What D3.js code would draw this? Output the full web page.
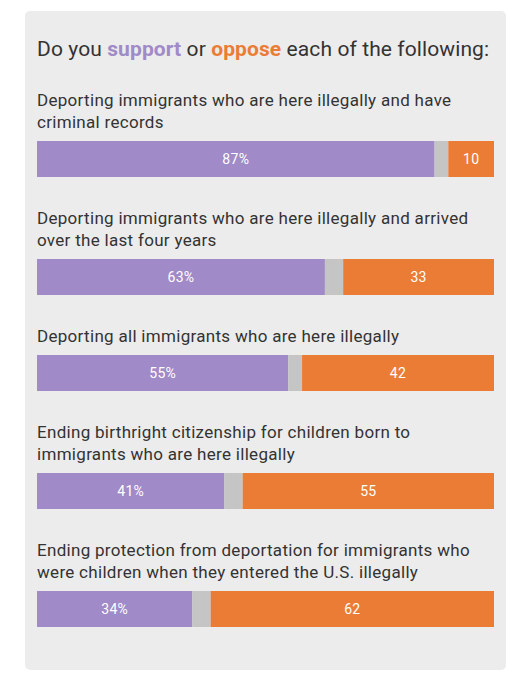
<!DOCTYPE html>
<html>
<head>
<meta charset="utf-8">
<script src="https://cdn.jsdelivr.net/npm/d3@7"></script>
<style>
  body { margin: 0; background: #fff; }
  text { font-family: Roboto, sans-serif; }
</style>
</head>
<body>
<div id="chart"></div>
<script>
const width = 531
const height = 680
const margin = {top: 11, right: 25, bottom: 10, left: 25}

// survey items, each label already broken into lines as printed
const labels = [
  ["Deporting immigrants who are here illegally and have", "criminal records"],
  ["Deporting immigrants who are here illegally and arrived", "over the last four years"],
  ["Deporting all immigrants who are here illegally"],
  ["Ending birthright citizenship for children born to", "immigrants who are here illegally"],
  ["Ending protection from deportation for immigrants who", "were children when they entered the U.S. illegally"]
]
const support = [87, 63, 55, 41, 34]
const oppose = [10, 33, 42, 55, 62]

const purple = "#a08ac7"
const orange = "#eb7c35"
const grey = "#c5c5c5"
const textColor = "#333"

const lineHeight = 22
const labelGap = 13
const barHeight = 36
const itemGap = 47

const svg = d3.select("div#chart").append("svg").attr("width", width).attr("height", height)

svg.append("rect")
  .attr("x", margin.left).attr("y", margin.top)
  .attr("width", width - margin.left - margin.right)
  .attr("height", height - margin.top - margin.bottom)
  .attr("rx", 5)
  .attr("fill", "#ececec")

const x = d3.scaleLinear().domain([0, 100]).range([37, 494])

const title = svg.append("text")
  .attr("x", 37).attr("y", 56)
  .attr("font-size", "21px")
  .attr("letter-spacing", "0.1px")
  .attr("fill", textColor)
title.append("tspan").text("Do you ")
title.append("tspan").text("support").attr("font-weight", "bold").attr("fill", purple)
title.append("tspan").text(" or ")
title.append("tspan").text("oppose").attr("font-weight", "bold").attr("fill", orange)
title.append("tspan").text(" each of the following:")

// stack the items down the panel
let cursor = 106
const rows = labels.map((lines, i) => {
  const row = {lines, support: support[i], oppose: oppose[i], baseline: cursor}
  row.barTop = cursor + (lines.length - 1) * lineHeight + labelGap
  cursor = row.barTop + barHeight + itemGap
  return row
})

const groups = svg.selectAll("g.row").data(rows).enter()
  .append("g").attr("class", "row")

groups.each(function(d) {
  const g = d3.select(this)
  g.selectAll("text.label").data(d.lines).enter()
    .append("text").attr("class", "label")
    .attr("x", 37)
    .attr("y", (l, j) => d.baseline + j * lineHeight)
    .attr("font-size", "17px")
    .attr("letter-spacing", "0.3px")
    .attr("fill", textColor)
    .text(l => l)

  const segs = [
    {from: 0, to: d.support, color: purple, label: d.support + "%"},
    {from: d.support, to: 100 - d.oppose, color: grey, label: ""},
    {from: 100 - d.oppose, to: 100, color: orange, label: String(d.oppose)}
  ]

  g.selectAll("rect").data(segs).enter()
    .append("rect")
    .attr("x", s => x(s.from))
    .attr("y", d.barTop)
    .attr("width", s => x(s.to) - x(s.from))
    .attr("height", barHeight)
    .attr("fill", s => s.color)

  g.selectAll("text.value").data(segs.filter(s => s.label)).enter()
    .append("text").attr("class", "value")
    .attr("x", s => (x(s.from) + x(s.to)) / 2)
    .attr("y", d.barTop + barHeight / 2)
    .attr("dy", "0.35em")
    .attr("text-anchor", "middle")
    .attr("font-size", "14px")
    .attr("letter-spacing", "0.3px")
    .attr("fill", "#fff")
    .text(s => s.label)
})
</script>
</body>
</html>
